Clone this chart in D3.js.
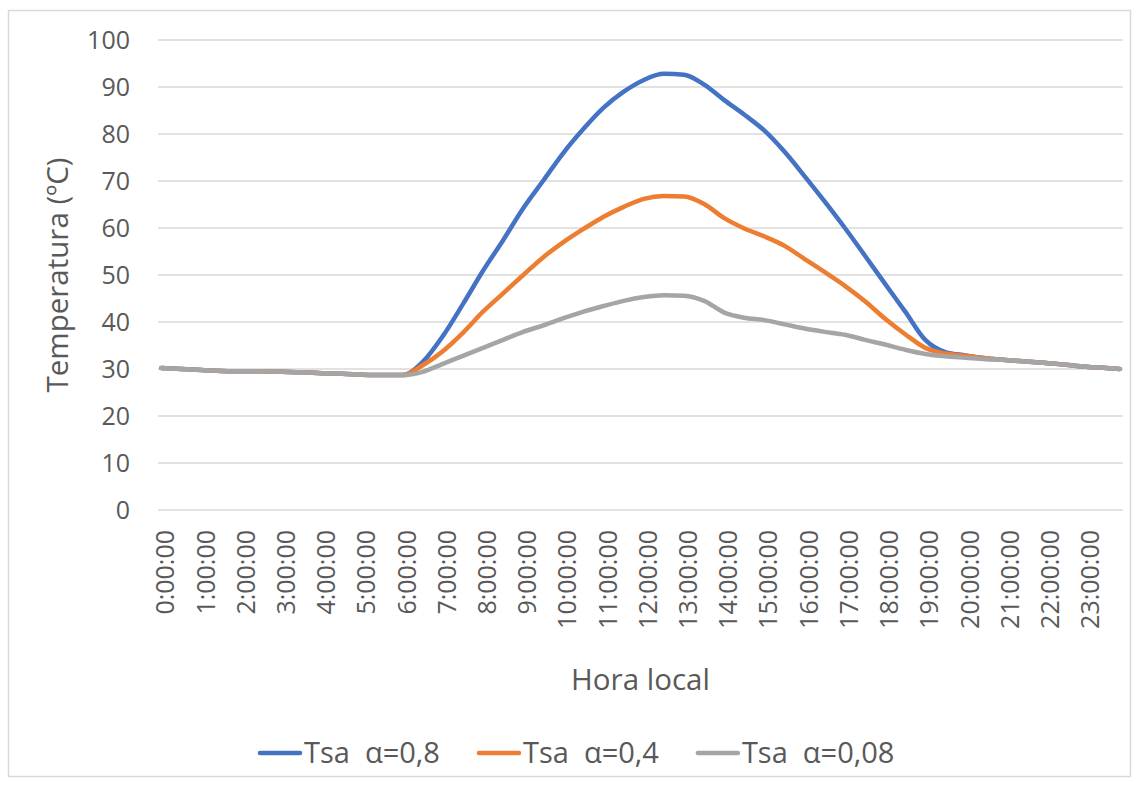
<!DOCTYPE html>
<html><head><meta charset="utf-8">
<script src="https://cdn.jsdelivr.net/npm/d3@7"></script>
<style>
body{margin:0;background:#fff}
svg{display:block}
text{font-family:'Open Sans',sans-serif;fill:#595959}
</style>
</head><body>
<svg id="chart" width="1139" height="785"></svg>
<script>
// ---- data ----
const times = ["0:00","0:30","1:00","1:30","2:00","2:30","3:00","3:30","4:00","4:30","5:00","5:30",
  "6:00","6:30","7:00","7:30","8:00","8:30","9:00","9:30","10:00","10:30","11:00","11:30",
  "12:00","12:30","13:00","13:30","14:00","14:30","15:00","15:30","16:00","16:30","17:00","17:30",
  "18:00","18:30","19:00","19:30","20:00","20:30","21:00","21:30","22:00","22:30","23:00","23:30","23:50"];
const tsa08 = [30.2,30.0,29.8,29.6,29.5,29.5,29.4,29.3,29.1,29.0,28.8,28.7,
  28.7,31.5,37.0,43.8,50.9,57.4,64.2,70.1,76.0,81.1,85.6,89.0,
  91.5,92.8,92.6,90.5,87.2,84.1,80.7,76.2,71.0,65.6,60.0,54.1,
  48.1,42.2,36.2,33.6,32.9,32.3,31.9,31.6,31.3,30.9,30.5,30.2,30.0];
const tsa04 = [30.2,30.0,29.8,29.6,29.5,29.5,29.4,29.3,29.1,29.0,28.8,28.7,
  28.7,30.8,33.8,37.7,42.2,46.1,50.0,53.8,57.0,59.8,62.4,64.5,
  66.2,66.8,66.7,65.1,62.1,59.9,58.2,56.2,53.4,50.6,47.7,44.4,
  40.7,37.4,34.5,33.3,32.8,32.3,31.9,31.6,31.3,30.9,30.5,30.2,30.0];
const tsa008 = [30.2,30.0,29.8,29.6,29.5,29.5,29.4,29.3,29.1,29.0,28.8,28.7,
  28.7,29.4,31.1,32.8,34.5,36.2,37.9,39.3,40.8,42.2,43.4,44.5,
  45.3,45.7,45.6,44.5,42.0,40.9,40.4,39.5,38.6,37.9,37.3,36.2,
  35.2,34.1,33.2,32.7,32.4,32.1,31.9,31.6,31.3,30.9,30.5,30.2,30.0];
const seriesNames = ["Tsa  \u03b1=0,8","Tsa  \u03b1=0,4","Tsa  \u03b1=0,08"];
const yTicks = [0,10,20,30,40,50,60,70,80,90,100];
const xTickLabels = ["0:00:00","1:00:00","2:00:00","3:00:00","4:00:00","5:00:00","6:00:00","7:00:00",
  "8:00:00","9:00:00","10:00:00","11:00:00","12:00:00","13:00:00","14:00:00","15:00:00",
  "16:00:00","17:00:00","18:00:00","19:00:00","20:00:00","21:00:00","22:00:00","23:00:00"];
const yTitle = "Temperatura (\u00baC)";
const xTitle = "Hora local";

// ---- styles ----
const colors = ["#4472c4","#ed7d31","#a5a5a5"];
const toHours = s => { const [h,m] = s.split(":").map(Number); return h + m/60; };

const svg = d3.select("#chart");
const plot = {left:158, right:1123, top:40, bottom:510};

svg.append("rect").attr("x",8.5).attr("y",10.5).attr("width",1122).attr("height",766)
  .attr("fill","#fff").attr("stroke","#d9d9d9").attr("stroke-width",1.5);

const half = 1/12; // half of a 10-minute category
const x = d3.scaleLinear().domain([-half, 24 - half]).range([plot.left, plot.right]);
const y = d3.scaleLinear().domain([0,100]).range([plot.bottom, plot.top]);

// grid
svg.append("g").selectAll("line").data(yTicks).join("line")
  .attr("x1",plot.left).attr("x2",plot.right)
  .attr("y1",d=>y(d)).attr("y2",d=>y(d))
  .attr("stroke","#d9d9d9").attr("stroke-width",1.6);

// y axis labels
const yAxis = svg.append("g").attr("transform",`translate(${plot.left-28},0)`)
  .call(d3.axisLeft(y).tickValues(yTicks).tickSize(0).tickPadding(0).tickFormat(d3.format("d")));
yAxis.select(".domain").remove();
yAxis.selectAll("text").attr("font-size",25).attr("fill","#595959")
  .style("font-family","'Open Sans',sans-serif").attr("dy","0.34em");

// x axis labels
const xg = svg.append("g");
xg.selectAll("text").data(xTickLabels).join("text")
  .attr("transform",(d,i)=>`translate(${x(i)+3},530) rotate(-90)`)
  .attr("text-anchor","end").attr("dominant-baseline","central")
  .attr("font-size",25).text(d=>d);

// series
const line = d3.line().x(d=>x(d[0])).y(d=>y(d[1])).curve(d3.curveMonotoneX);
[tsa08, tsa04, tsa008].forEach((vals,k)=>{
  const pts = times.map((t,i)=>[toHours(t), vals[i]]);
  svg.append("path").datum(pts).attr("d",line)
    .attr("fill","none").attr("stroke",colors[k]).attr("stroke-width",4.5)
    .attr("stroke-linecap","round").attr("stroke-linejoin","round");
});

// titles
svg.append("text").attr("x",(plot.left+plot.right)/2).attr("y",690)
  .attr("text-anchor","middle").attr("font-size",29.5).text(xTitle);
svg.append("text").attr("transform",`translate(68,${(plot.top+plot.bottom)/2}) rotate(-90)`)
  .attr("text-anchor","middle").attr("font-size",29.5).text(yTitle);

// legend
const lg = svg.append("g");
let lx = 258;
seriesNames.forEach((name,k)=>{
  lg.append("line").attr("x1",lx+2).attr("x2",lx+42).attr("y1",753).attr("y2",753)
    .attr("stroke",colors[k]).attr("stroke-width",4.5).attr("stroke-linecap","round");
  const t = lg.append("text").attr("x",lx+46).attr("y",763).attr("font-size",29)
    .style("white-space","pre").attr("xml:space","preserve").text(name);
  const w = t.node().getComputedTextLength();
  lx += 46 + w + 37;
});
</script>
</body></html>
